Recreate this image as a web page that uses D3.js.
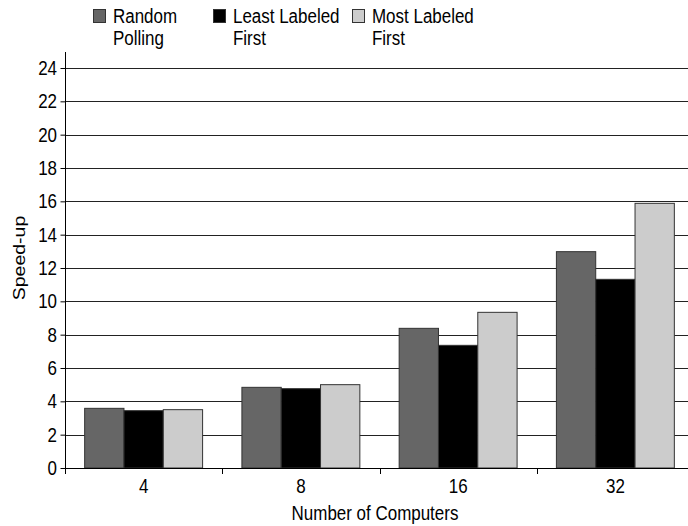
<!DOCTYPE html>
<html><head><meta charset="utf-8">
<script src="https://cdn.jsdelivr.net/npm/d3@7"></script>
<style>body{margin:0;background:#fff}text{font-family:"Liberation Sans",Arial,sans-serif;fill:#000}</style>
</head><body><svg id="c" width="688" height="526"></svg>
<script>
const categories = ["4","8","16","32"];
const seriesNames = [["Random","Polling"],["Least Labeled","First"],["Most Labeled","First"]];
const randomPolling = [3.58, 4.84, 8.38, 12.98];
const leastLabeled = [3.44, 4.76, 7.36, 11.32];
const mostLabeled = [3.5, 5.0, 9.34, 15.88];
const yTicks = [0,2,4,6,8,10,12,14,16,18,20,22,24];
const colors = ["#666666","#000000","#cccccc"];
const series = [randomPolling, leastLabeled, mostLabeled];

(function(){
const svg = d3.select("#c");
const mLeft = 65, mRight = 694, mTop = 52, mBottom = 468;
const x = d3.scaleBand().domain(categories).range([mLeft, mRight]).paddingInner(0).paddingOuter(0);
const inner = d3.scaleBand().domain([0,1,2]).range([0, x.bandwidth()]).paddingInner(0).paddingOuter(0.5);
const y = d3.scaleLinear().domain([0,24]).range([mBottom, mBottom - 400]);
const SX = 0.87;
function label(parent, tx, ty, str, size, anchor, rot){
  const tr = `translate(${tx},${ty})` + (rot ? ` rotate(${rot}) scale(1,${SX})` : ` scale(${SX},1)`);
  const g = parent.append("g").attr("transform", tr);
  g.append("text").attr("text-anchor", anchor || "start").style("font-size", size + "px").text(str);
  return g;
}

// gridlines
svg.append("g").selectAll("line").data(yTicks.filter(d=>d>0)).join("line")
  .attr("x1", mLeft).attr("x2", mRight)
  .attr("y1", d=>Math.round(y(d))+0.5).attr("y2", d=>Math.round(y(d))+0.5)
  .attr("stroke", "#222").attr("stroke-width", 1);

// bars
series.forEach((s,i)=>{
  svg.append("g").selectAll("rect").data(s).join("rect")
    .attr("x", (d,j)=>x(categories[j]) + inner(i))
    .attr("width", inner.bandwidth())
    .attr("y", d=>y(d))
    .attr("height", d=>y(0)-y(d))
    .attr("fill", colors[i]).attr("stroke", "#333").attr("stroke-width", 1);
});

// y axis
const ya = svg.append("g").attr("transform", `translate(${mLeft+0.5},0)`)
  .call(d3.axisLeft(y).tickValues(yTicks).tickSize(5).tickSizeOuter(0).tickFormat(""));
ya.select(".domain").remove();
ya.selectAll("line").attr("stroke","#000");
const yl = svg.append("g");
yTicks.forEach(t => label(yl, 57, y(t) + 7, String(t), 19.5, "end"));
svg.append("line").attr("x1", mLeft+0.5).attr("x2", mLeft+0.5).attr("y1", mTop).attr("y2", mBottom+0.5).attr("stroke","#000");

// x axis
svg.append("line").attr("x1", mLeft).attr("x2", mRight).attr("y1", mBottom+0.5).attr("y2", mBottom+0.5).attr("stroke","#000");
svg.append("g").selectAll("line").data(categories).join("line")
  .attr("x1", d=>Math.round(x(d))+0.5).attr("x2", d=>Math.round(x(d))+0.5)
  .attr("y1", mBottom).attr("y2", mBottom+6).attr("stroke","#000");
const xl = svg.append("g");
categories.forEach(c => label(xl, x(c) + x.bandwidth()/2, 493, c, 19.5, "middle"));

// axis titles
label(svg, 375, 520, "Number of Computers", 19.5, "middle");
label(svg, 25, 258, "Speed-up", 19.5, "middle", -90);

// legend
const legX = [93, 213, 352];
seriesNames.forEach((n,i)=>{
  const g = svg.append("g").attr("transform",`translate(${legX[i]},0)`);
  g.append("rect").attr("x",0.5).attr("y",9.5).attr("width",12).attr("height",13).attr("fill",colors[i]).attr("stroke","#333");
  label(g, 20, 23, n[0], 19.5);
  label(g, 20, 45, n[1], 19.5);
});
})();
</script></body></html>
